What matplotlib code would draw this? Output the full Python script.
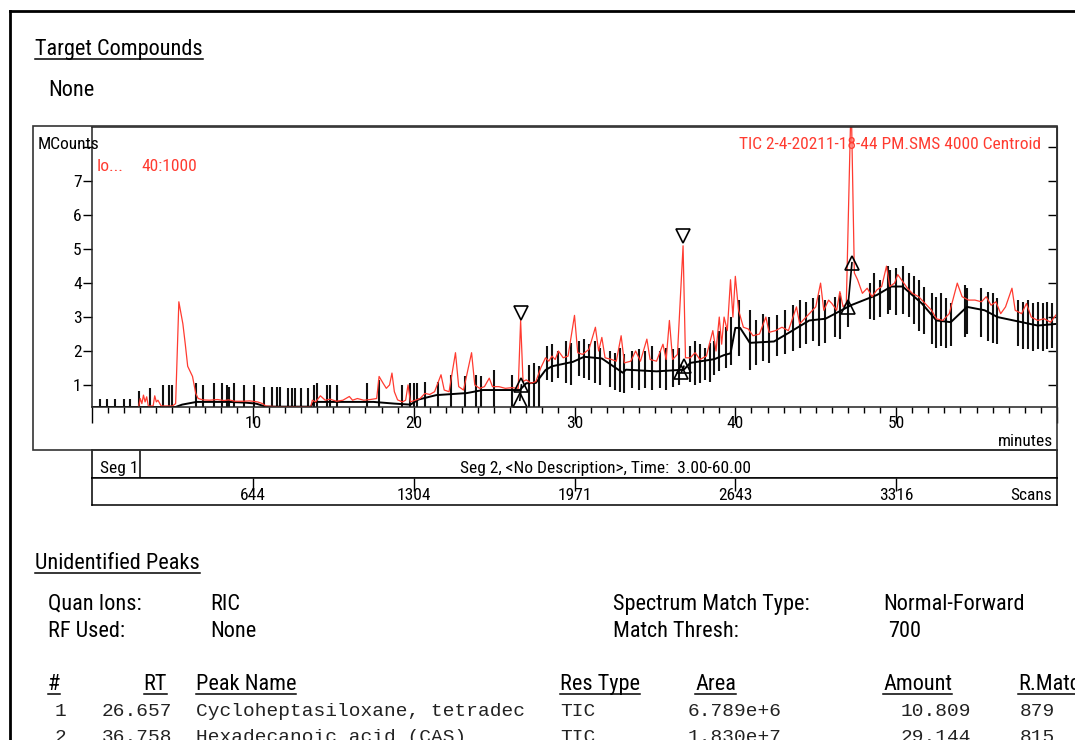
import matplotlib
matplotlib.use('Agg')
import matplotlib.pyplot as plt
from matplotlib.lines import Line2D
from matplotlib.patches import Rectangle

plt.rcParams['font.family'] = ['Roboto Condensed', 'Archivo Narrow', 'Liberation Sans', 'DejaVu Sans']

# TIC trace (minutes, MCounts)
tic_t = [2.9, 3.0, 3.1, 3.2, 3.3, 3.4, 3.5, 3.8, 3.9, 4.0, 4.1, 4.3, 5.0, 5.2, 5.4, 5.65, 5.8, 5.95,
         6.1, 6.25, 6.45, 6.6, 6.9, 7.3, 7.8, 8.2, 8.5, 8.9, 9.4, 9.8, 10.3, 10.6, 10.8, 11.5, 12.5,
         13.6, 13.7, 13.9, 14.2, 14.5, 14.8, 15.2, 15.6, 16.0, 16.2, 16.5, 16.9, 17.3, 17.7, 17.85,
         18.1, 18.3, 18.5, 18.65, 18.8, 19.0, 19.3, 19.5, 19.65, 19.8, 20.1, 20.4, 20.7, 21.0, 21.3,
         21.7, 21.9, 22.2, 22.6, 22.8, 23.1, 23.6, 23.8, 24.1, 24.4, 24.7, 24.9, 25.3, 25.7, 26.1,
         26.5, 26.65, 26.8, 27.0, 27.3, 27.6, 27.9, 28.2, 28.4, 28.6, 28.8, 29.0, 29.3, 29.6, 30.0,
         30.2, 30.5, 30.9, 31.3, 31.5, 31.7, 31.9, 32.3, 32.6, 32.9, 33.1, 33.5, 33.8, 34.1, 34.5,
         34.7, 35.1, 35.5, 35.7, 35.9, 36.1, 36.4, 36.75, 36.9, 37.2, 37.5, 37.8, 38.2, 38.6, 38.8,
         39.0, 39.15, 39.3, 39.5, 39.7, 39.85, 40.0, 40.2, 40.5, 40.8, 41.1, 41.5, 41.9, 42.1, 42.5,
         42.9, 43.3, 43.8, 44.0, 44.3, 44.6, 45.0, 45.3, 45.5, 45.8, 46.0, 46.3, 46.5, 46.7, 46.9,
         47.2, 47.4, 47.6, 47.9, 48.2, 48.5, 48.8, 49.1, 49.4, 49.6, 49.9, 50.1, 50.4, 50.7, 51.0,
         51.4, 51.8, 52.2, 52.5, 52.9, 53.3, 53.8, 54.1, 54.5, 54.9, 55.3, 55.6, 55.9, 56.2, 56.5,
         56.8, 57.2, 57.4, 57.8, 58.1, 58.4, 58.8, 59.2, 59.6, 60.0]
tic_v = [0.36, 0.6, 0.45, 0.7, 0.5, 0.65, 0.38, 0.38, 0.68, 0.5, 0.55, 0.38, 0.38, 0.45, 3.45, 2.8, 2.2, 1.55,
         1.4, 1.25, 0.75, 0.6, 0.56, 0.55, 0.57, 0.54, 0.56, 0.52, 0.52, 0.53, 0.5, 0.45, 0.38, 0.36, 0.36,
         0.36, 0.55, 0.5, 0.68, 0.55, 0.58, 0.52, 0.55, 0.66, 0.55, 0.6, 0.55, 0.57, 0.6, 1.25,
         1.05, 0.9, 1.0, 1.35, 0.8, 0.56, 0.5, 0.55, 1.0, 0.5, 0.55, 0.6, 0.75, 0.72, 0.8,
         1.3, 0.85, 0.8, 1.95, 0.95, 0.85, 1.95, 1.0, 0.9, 0.95, 1.2, 0.95, 0.95, 0.9, 0.92,
         0.9, 2.9, 1.1, 1.15, 1.05, 1.1, 1.5, 1.8, 1.7, 1.85, 1.75, 2.0, 1.8, 1.85, 3.05,
         1.95, 1.9, 2.05, 2.7, 2.0, 2.4, 1.8, 1.75, 1.7, 2.45, 1.65, 1.7, 2.0, 1.7, 2.35,
         1.75, 1.7, 2.2, 1.75, 2.9, 1.75, 1.9, 5.1, 1.8, 1.8, 1.95, 1.75, 1.85, 2.6, 2.0,
         3.0, 2.2, 3.0, 2.6, 4.1, 3.0, 4.2, 3.2, 2.7, 2.65, 2.45, 2.5, 3.0, 2.55, 2.6,
         2.7, 2.6, 3.3, 2.8, 2.95, 3.1, 3.3, 4.0, 3.2, 3.5, 3.4, 3.2, 3.75, 3.3, 3.4,
         9.5, 4.3, 4.1, 3.7, 3.85, 3.6, 3.8, 3.9, 4.5, 3.9, 4.0, 4.25, 4.05, 3.85, 3.7,
         3.6, 3.4, 3.2, 2.95, 2.9, 3.1, 4.0, 3.6, 3.5, 3.5, 3.45, 3.6, 3.35, 3.45, 3.1,
         3.3, 3.85, 3.2, 3.1, 3.4, 3.0, 2.9, 2.95, 2.85, 3.1]

# baseline trace
base_t = [0, 5.2, 5.6, 6.5, 8.5, 9.5, 10.2, 10.8, 13.6, 13.8, 15.0, 17.5, 18.8, 19.8, 20.3, 21.4,
          23.3, 24.3, 26.6, 27.0, 27.6, 28.2, 28.6, 29.9, 30.6, 31.7, 33.0, 33.2, 35.1, 36.8, 37.2,
          38.7, 39.3, 39.7, 40.0, 40.3, 40.9, 42.4, 43.3, 44.6, 45.6, 47.2, 48.8, 49.7, 50.4, 51.6,
          52.5, 53.4, 54.4, 55.5, 56.3, 57.8, 58.8, 60.0]
base_v = [0.35, 0.35, 0.42, 0.5, 0.5, 0.48, 0.45, 0.36, 0.36, 0.5, 0.5, 0.5, 0.45, 0.42, 0.57, 0.7,
          0.76, 0.85, 0.85, 1.05, 1.06, 1.44, 1.55, 1.68, 1.83, 1.78, 1.36, 1.45, 1.4, 1.45, 1.65,
          1.76, 1.88, 1.93, 2.68, 2.68, 2.24, 2.28, 2.53, 2.9, 2.95, 3.35, 3.65, 3.9, 3.9, 3.4,
          2.9, 2.85, 3.3, 3.2, 3.0, 2.85, 2.75, 2.8]

# scan marks
scan_t = [0.5, 0.93, 1.46, 1.97, 2.39, 2.9, 3.6, 4.4, 4.8, 5.0, 6.45, 6.9, 7.6, 8.1, 8.4, 8.5, 8.85,
          9.45, 10.1, 10.7, 11.2, 11.5, 11.7, 12.2, 12.45, 12.65, 12.97, 13.4, 13.8, 14.0, 14.6, 14.8,
          15.25, 17.1, 17.85, 19.3, 19.8, 20.0, 20.2, 20.7, 21.5, 22.3, 23.2, 23.9, 24.2, 25.0, 26.1,
          27.2, 27.5, 27.8, 28.3, 28.6, 29.0, 29.5, 29.8, 30.3, 30.6, 30.9, 31.3, 31.6, 32.2, 32.5,
          32.8, 33.1, 33.6, 34.0, 34.4, 34.8, 35.3, 35.7, 36.1, 36.5, 37.2, 37.5, 37.8, 38.1, 38.4,
          38.7, 39.0, 39.4, 39.7, 40.2, 40.9, 41.3, 41.7, 42.1, 42.6, 43.1, 43.6, 44.0, 44.4, 44.8,
          45.2, 45.6, 46.2, 46.5, 47.0, 48.4, 48.6, 49.0, 49.5, 49.6, 50.0, 50.4, 50.8, 51.1, 51.4,
          51.7, 52.2, 52.5, 52.8, 53.1, 53.4, 54.3, 54.4, 55.3, 55.7, 56.0, 56.3, 57.6, 57.9, 58.2,
          58.5, 58.8, 59.1, 59.4, 59.7]
scan_lo = [0.35, 0.35, 0.35, 0.35, 0.35, 0.35, 0.35, 0.35, 0.35, 0.35, 0.35, 0.35, 0.35, 0.35, 0.35, 0.35, 0.35,
           0.35, 0.35, 0.35, 0.35, 0.35, 0.35, 0.35, 0.35, 0.35, 0.35, 0.35, 0.35, 0.35, 0.35, 0.35,
           0.35, 0.35, 0.35, 0.35, 0.35, 0.35, 0.35, 0.35, 0.35, 0.35, 0.35, 0.35, 0.35, 0.35, 0.35,
           0.35, 0.35, 0.35, 1.15, 1.1, 1.2, 1.05, 1.0, 1.25, 1.2, 1.15, 1.05, 1.0, 0.95, 0.85,
           0.8, 0.75, 0.9, 0.85, 0.9, 0.85, 0.9, 0.85, 0.95, 1.0, 1.1, 1.0, 1.05, 1.15, 1.1,
           1.3, 1.4, 1.5, 1.6, 1.85, 1.45, 1.6, 1.7, 1.65, 1.85, 1.9, 2.0, 2.1, 2.2, 2.3,
           2.15, 2.25, 2.4, 2.35, 2.7, 2.95, 2.9, 3.0, 3.1, 3.2, 3.05, 3.1, 3.0, 2.8, 2.6,
           2.5, 2.2, 2.1, 2.15, 2.1, 2.15, 2.4, 2.5, 2.4, 2.3, 2.25, 2.2, 2.15, 2.05, 2.05,
           2.0, 2.05, 2.0, 2.05, 2.1]
scan_hi = [0.58, 0.58, 0.58, 0.58, 0.58, 0.82, 0.9, 1.0, 1.0, 1.0, 1.05, 1.0, 1.05, 1.05, 1.0, 0.95, 1.05,
           1.0, 1.0, 0.95, 0.95, 0.95, 0.95, 0.9, 0.9, 0.9, 0.9, 0.9, 1.0, 1.05, 1.0, 1.0,
           1.0, 1.05, 1.15, 1.0, 1.05, 1.05, 1.05, 1.1, 1.1, 1.3, 1.25, 1.3, 1.25, 1.45, 1.3,
           1.6, 1.65, 1.55, 2.15, 2.2, 2.0, 2.3, 2.25, 2.3, 2.35, 2.2, 2.3, 2.1, 2.0, 1.95,
           2.1, 1.9, 2.0, 2.05, 2.0, 2.15, 2.0, 2.1, 2.05, 2.1, 2.15, 2.3, 2.2, 2.1, 2.25,
           2.3, 2.6, 2.7, 3.0, 3.5, 3.2, 2.9, 3.1, 3.0, 3.05, 3.2, 3.35, 3.5, 3.45, 3.55,
           3.65, 3.5, 3.6, 3.7, 3.5, 4.0, 4.3, 4.1, 4.5, 4.4, 4.45, 4.5, 4.3, 4.2, 4.1,
           3.9, 3.7, 3.6, 3.7, 3.55, 3.4, 3.95, 3.85, 3.85, 3.75, 3.7, 3.55, 3.5, 3.45, 3.5,
           3.4, 3.45, 3.4, 3.45, 3.4]

# peak marks
apex_t = [26.65, 36.75]
apex_v = [3.12, 5.38]
start_t = [26.6, 36.65, 47.0]
start_v = [0.55, 1.38, 3.3]
end_t = [26.7, 36.8, 47.25]
end_v = [1.0, 1.55, 4.6]

x_ticks = [0, 10, 20, 30, 40, 50, 60]
x_labels = ['', '10', '20', '30', '40', '50', '']
y_ticks = [1, 2, 3, 4, 5, 6, 7, 8]
y_labels = ['1', '2', '3', '4', '5', '6', '7', '']
scan_ticks = [10, 20, 30, 40, 50]
scan_labels = ['644', '1304', '1971', '2643', '3316']

header = ['#', 'RT', 'Peak Name', 'Res Type', 'Area', 'Amount', 'R.Match']
row1 = ['1', '26.657', 'Cycloheptasiloxane, tetradec', 'TIC', '6.789e+6', '10.809', '879']
row2 = ['2', '36.758', 'Hexadecanoic acid (CAS)', 'TIC', '1.830e+7', '29.144', '815']

RED = '#ff3b30'
W, H = 1075, 740
fig = plt.figure(figsize=(W / 100, H / 100), dpi=100)


def fx(px):
    return px / W


def fy(py):
    return 1 - py / H


def ftext(x, y, s, size=16, **kw):
    return fig.text(fx(x), fy(y), s, fontsize=size, va='baseline', **kw)


# page border
fig.add_artist(Line2D([fx(10), fx(1075)], [fy(11), fy(11)], transform=fig.transFigure, color='black', lw=2))
fig.add_artist(Line2D([fx(10), fx(10)], [fy(11), fy(740)], transform=fig.transFigure, color='black', lw=2))

# chart frame
fig.add_artist(Rectangle((fx(33), fy(450)), fx(1057) - fx(33), fy(126) - fy(450),
                         transform=fig.transFigure, fill=False, ec='#333333', lw=1.2))

ax = fig.add_axes([fx(92), fy(407), fx(1057) - fx(92), fy(127) - fy(407)])
ax.vlines(scan_t, scan_lo, scan_hi, color='#111111', lw=1.5)
ax.plot(base_t, base_v, color='black', lw=1.4)
ax.plot(tic_t, tic_v, color=RED, lw=0.9)
for i in range(len(start_t)):
    ax.plot([start_t[i], end_t[i]], [start_v[i], end_v[i]], color='black', lw=1.2)
ax.plot(apex_t, apex_v, 'v', ms=10, mfc='white', mec='black', mew=1.2)
ax.plot(start_t, start_v, '^', ms=10, mfc='none', mec='black', mew=1.2)
ax.plot(end_t, end_v, '^', ms=10, mfc='none', mec='black', mew=1.2)
ax.set_xlim(0, 60)
ax.set_ylim(0.35, 8.6)
ax.set_xticks(x_ticks)
ax.set_xticklabels(x_labels)
ax.set_xticks(range(0, 61), minor=True)
ax.set_yticks(y_ticks)
ax.set_yticklabels(y_labels)
ax.tick_params(axis='x', which='major', length=11.5, width=1, labelsize=12.5, pad=-5)
ax.tick_params(axis='x', which='minor', length=4.5, width=1)
ax.tick_params(axis='y', length=6.5, width=1, labelsize=12.5, pad=1)
for sp in ax.spines.values():
    sp.set_linewidth(1.1)
    sp.set_color('#222222')
sec = ax.secondary_yaxis('right')
sec.set_yticks(y_ticks)
sec.set_yticklabels([])
sec.tick_params(direction='in', length=6.5, width=1)

ftext(38, 149, 'MCounts', size=12.5)
ftext(97, 171, 'Io...', size=12.5, color=RED)
ftext(141, 171, '40:1000', size=12.5, color=RED)
ftext(1041, 149, 'TIC 2-4-20211-18-44 PM.SMS 4000 Centroid', size=12.5, color=RED, ha='right')
ftext(1053, 446, 'minutes', size=12.5, ha='right')

# segment and scan strips
seg = fig.add_axes([fx(92), fy(478), fx(1057) - fx(92), fy(450) - fy(478)])
seg.set_xlim(0, 60)
seg.set_ylim(0, 1)
seg.set_xticks([])
seg.set_yticks([])
seg.axvline(3.0, color='black', lw=1.1)
ftext(100, 473, 'Seg 1', size=12.5)
ftext(460, 473, 'Seg 2, <No Description>, Time:  3.00-60.00', size=12.5)

scan = fig.add_axes([fx(92), fy(505), fx(1057) - fx(92), fy(478) - fy(505)])
scan.set_xlim(0, 60)
scan.set_ylim(0, 1)
scan.xaxis.tick_top()
scan.set_xticks(scan_ticks)
scan.tick_params(axis='x', direction='in', length=9, width=1, labeltop=False)
scan.set_yticks([])
for t, lab in zip(scan_ticks, scan_labels):
    scan.text(t, 0.19, lab, ha='center', va='baseline', fontsize=12.5)
ftext(1052, 500, 'Scans', size=12.5, ha='right')
for a in (seg, scan):
    for sp in a.spines.values():
        sp.set_linewidth(1.1)

# report text
underlined = []
underlined.append(ftext(35, 55, 'Target Compounds'))
ftext(48, 96, 'None')
underlined.append(ftext(35, 569, 'Unidentified Peaks'))
ftext(48, 610, 'Quan Ions:')
ftext(210, 610, 'RIC')
ftext(48, 637, 'RF Used:')
ftext(210, 637, 'None')
ftext(613, 610, 'Spectrum Match Type:')
ftext(883, 610, 'Normal-Forward')
ftext(613, 637, 'Match Thresh:')
ftext(888, 637, '700')

head_x = [48, 167, 196, 560, 695, 883, 1018]
head_ha = ['left', 'right', 'left', 'left', 'left', 'left', 'left']
for x, s, ha in zip(head_x, header, head_ha):
    underlined.append(ftext(x, 690, s, ha=ha))

row_x = [66, 172, 196, 560, 688, 971, 1020]
row_ha = ['right', 'right', 'left', 'left', 'left', 'right', 'left']
for y, row in ((716, row1), (742, row2)):
    for x, s, ha in zip(row_x, row, row_ha):
        ftext(x, y, s, size=14, ha=ha, family='Liberation Mono', color='#222222')

fig.canvas.draw()
r = fig.canvas.get_renderer()
for t in underlined:
    bb = t.get_window_extent(r)
    y = t.get_position()[1] - 3.5 / H
    fig.add_artist(Line2D([bb.x0 / W, bb.x1 / W], [y, y], transform=fig.transFigure, color='black', lw=1.1))

fig.savefig('out.png', dpi=100)
